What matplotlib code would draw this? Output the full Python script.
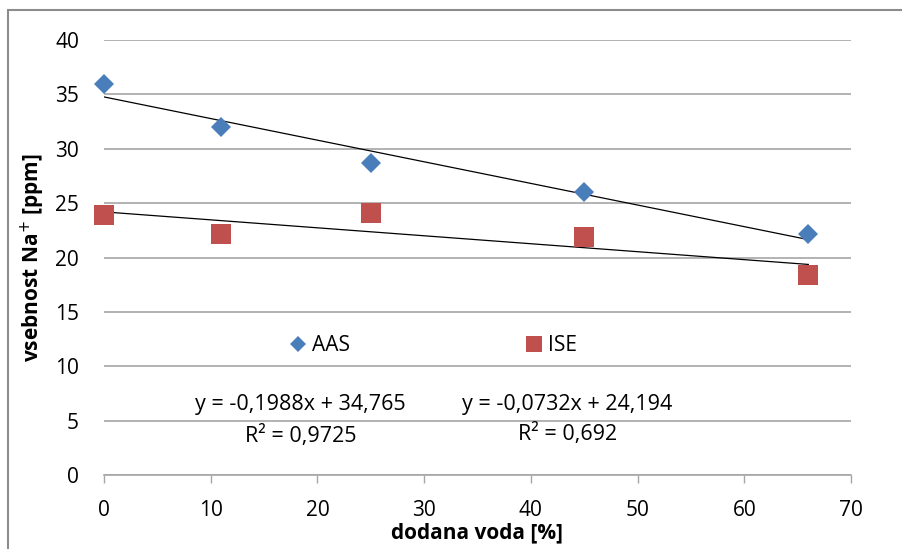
import matplotlib
matplotlib.use("Agg")
import matplotlib.pyplot as plt
from matplotlib.patches import Rectangle
import numpy as np

plt.rcParams['font.family'] = ['Open Sans', 'DejaVu Sans']

x_vals = [0, 11, 25, 45, 66]
aas = [36.0, 32.0, 28.7, 26.0, 22.2]
ise = [23.9, 22.2, 24.1, 21.9, 18.4]
aas_fit = (-0.1988, 34.765)
ise_fit = (-0.0732, 24.194)
aas_eq = ["y = -0,1988x + 34,765", "R² = 0,9725"]
ise_eq = ["y = -0,0732x + 24,194", "R² = 0,692"]
xticks = [0, 10, 20, 30, 40, 50, 60, 70]
yticks = [0, 5, 10, 15, 20, 25, 30, 35, 40]

fig = plt.figure(figsize=(9.02, 5.49), dpi=100)
fig.patches.append(Rectangle((8/902, -0.1), 1.2, 1 - 10/549 + 0.1, transform=fig.transFigure,
                             fill=False, edgecolor='#8c8c8c', linewidth=1.5))
ax = fig.add_axes([104/902, 1 - 475/549, 747/902, 435/549])

xs = np.array([x_vals[0], x_vals[-1]])
ax.plot(xs, aas_fit[0]*xs + aas_fit[1], color='black', lw=0.9, zorder=3)
ax.plot(xs, ise_fit[0]*xs + ise_fit[1], color='black', lw=0.9, zorder=3)
ax.plot(x_vals, aas, linestyle='none', marker='D', ms=10.5, color='#4a7ebb', mew=0, label='AAS',
        zorder=4, clip_on=False)
ax.plot(x_vals, ise, linestyle='none', marker='s', ms=14, color='#c0504d', mew=0, label='ISE',
        zorder=4, clip_on=False)

ax.set_xlim(0, 70)
ax.set_ylim(0, 40)
ax.set_xticks(xticks)
ax.set_yticks(yticks)
ax.yaxis.grid(True, color='#a6a6a6', lw=1.2)
ax.set_axisbelow(True)
for s in ['top', 'right', 'left']:
    ax.spines[s].set_visible(False)
ax.spines['bottom'].set_color('#a6a6a6')
ax.spines['bottom'].set_linewidth(1.2)
ax.tick_params(axis='x', colors='#a6a6a6', length=6, width=1, labelcolor='black', labelsize=15, pad=12)
ax.tick_params(axis='y', length=0, labelsize=15, pad=18)

ax.set_xlabel('dodana voda [%]', fontsize=15, fontweight='bold', labelpad=1)
ax.set_ylabel('vsebnost Na$^{+}$ [ppm]', fontsize=15, fontweight='bold', labelpad=6)

ax.legend(loc='center', bbox_to_anchor=(0.439, 0.297), ncol=2, frameon=False, fontsize=15,
          columnspacing=8.3, handletextpad=0.1, handlelength=1.1, markerscale=0.8)

ax.text(18.4, 6.45, aas_eq[0], ha='center', va='center', fontsize=15.5)
ax.text(18.4, 3.6, aas_eq[1], ha='center', va='center', fontsize=15.5)
ax.text(43.4, 6.5, ise_eq[0], ha='center', va='center', fontsize=15.5)
ax.text(43.4, 3.8, ise_eq[1], ha='center', va='center', fontsize=15.5)

fig.savefig('out.png', dpi=100)
